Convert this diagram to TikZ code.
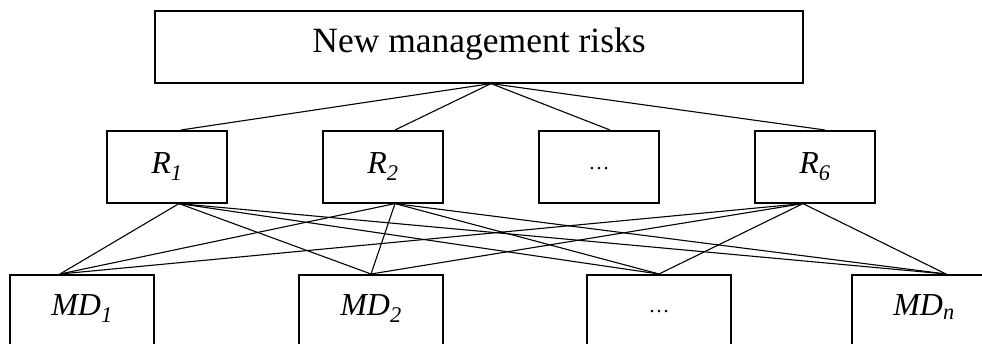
\documentclass[tikz,border=0pt]{standalone}
\usepackage{fontspec}
\setmainfont{Liberation Serif}
\begin{document}
\begin{tikzpicture}[x=1pt,y=-1pt,
  box/.style={draw, line width=1.6pt, inner sep=0pt, anchor=north, font=\fontsize{32}{32}\selectfont},
  rbox/.style={box, minimum width=120pt, text height=43pt, text depth=29pt},
  mdbox/.style={box, minimum width=144pt, text height=41pt, text depth=100pt},
  dotsfont/.style={font=\fontsize{21}{21}\selectfont},
  link/.style={line width=1.1pt}]
\useasboundingbox (0,0) rectangle (982,344);
\clip (0,0) rectangle (982,344);
\node[box, minimum width=648pt, text height=42pt, text depth=30pt, font=\fontsize{35.5}{35.5}\selectfont] (top) at (479,10) {New management risks};
\node[rbox] (r1) at (167,130) {\textit{R}\textsubscript{\textit{1}}};
\node[rbox] (r2) at (383,130) {\textit{R}\textsubscript{\textit{2}}};
\node[rbox, dotsfont, text height=39pt, text depth=33pt] (rd) at (599,130) {…};
\node[rbox] (r6) at (815,130) {\textit{R}\textsubscript{\textit{6}}};
\node[mdbox] (m1) at (82,274) {\textit{MD}\textsubscript{\textit{1}}};
\node[mdbox] (m2) at (371,274) {\textit{MD}\textsubscript{\textit{2}}};
\node[mdbox, dotsfont, text height=38pt, text depth=103pt] (md) at (659,274) {…};
\node[mdbox] (mn) at (924,274) {\textit{MD}\textsubscript{\textit{n}}};
\begin{scope}[link]
\draw ([xshift=12pt]top.south) -- ([xshift=14pt]r1.north);
\draw ([xshift=12pt]top.south) -- ([xshift=12pt]r2.north);
\draw ([xshift=12pt]top.south) -- ([xshift=11pt]rd.north);
\draw ([xshift=12pt]top.south) -- ([xshift=10pt]r6.north);
\foreach \r/\s in {r1/12pt, r2/12pt, r6/-12pt}{
  \draw ([xshift=\s]\r.south) -- ([xshift=-22pt]m1.north);
  \draw ([xshift=\s]\r.south) -- (m2.north);
  \draw ([xshift=\s]\r.south) -- (md.north);
  \draw ([xshift=\s]\r.south) -- ([xshift=22pt]mn.north);
}
\end{scope}
\end{tikzpicture}
\end{document}
